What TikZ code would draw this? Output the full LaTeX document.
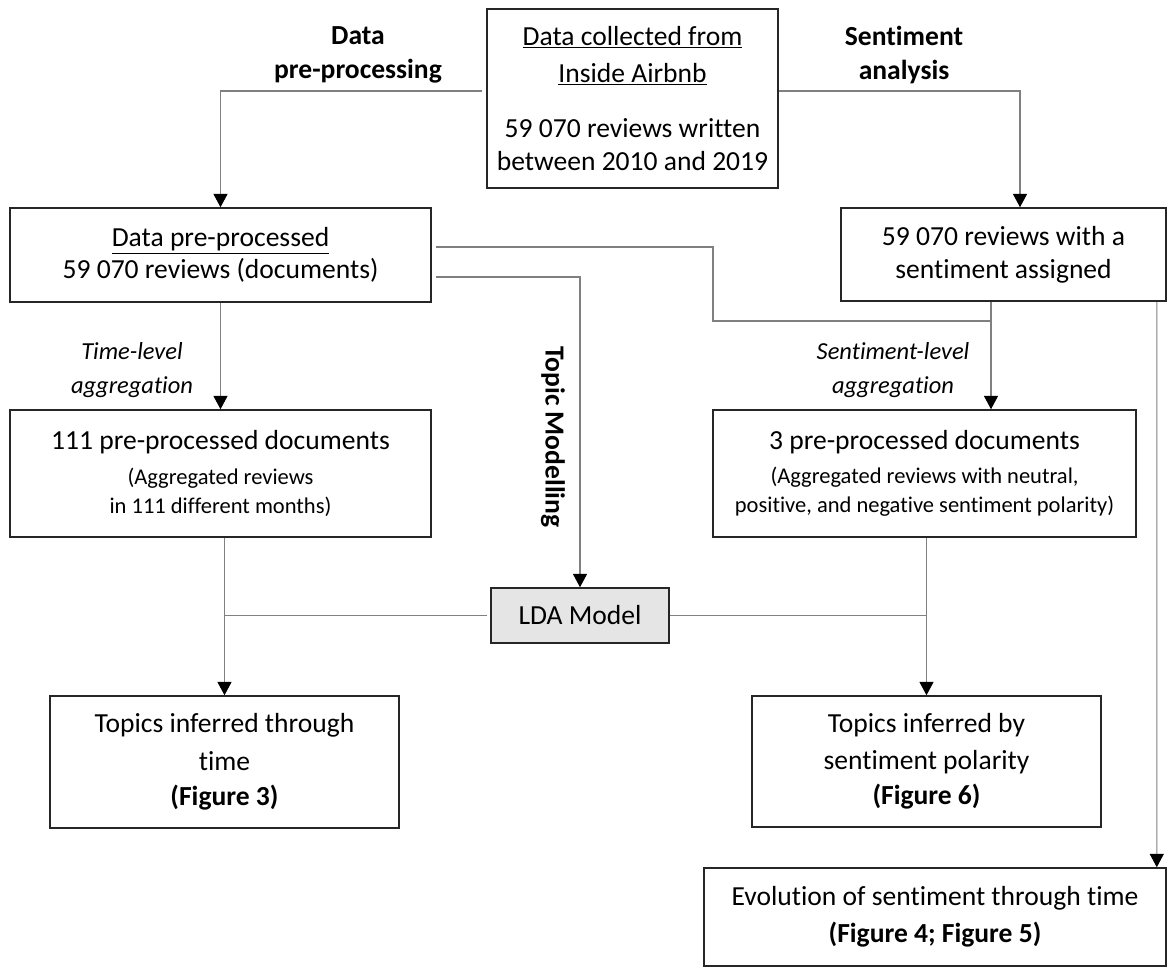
\documentclass[tikz,border=0pt]{standalone}
\usepackage{fontspec}
\setmainfont{Carlito}[Ligatures=NoCommon]
\usetikzlibrary{arrows.meta}
\usetikzlibrary{calc}
\newcommand{\subtxt}{\fontsize{16}{20}\selectfont}

\begin{document}
\begin{tikzpicture}[x=0.025cm,y=-0.025cm,
    box/.style={draw=black!85,line width=1.1pt,inner sep=0pt,align=center,
      font=\fontsize{19.6}{24.5}\selectfont},
    sz/.style 2 args={minimum width=#1*0.025cm,minimum height=#2*0.025cm},
    conn/.style={draw=black!50,line width=0.75pt},
    arr/.style={conn,-{Triangle[length=9.5pt,width=10pt,color=black]}},
    steplab/.style={align=center,font=\fontsize{19.6}{24.2}\selectfont\bfseries},
    agglab/.style={align=center,font=\fontsize{17.4}{24}\selectfont\itshape}]
            \useasboundingbox (0,0) rectangle (1168,967);

            % boxes
            \node[box,sz={291}{179}] (collect) at (632.5,98.5)
                {\underline{Data collected from}\\[1.8pt]
                 \underline{Inside Airbnb}\\[14.6pt]
                 59 070 reviews written\\[-1pt]
                 between 2010 and 2019};
            \node[box,sz={421}{94}] (prep) at (220.5,255)
                {\underline{Data pre-processed}\\[-1.7pt] 59 070 reviews (documents)};
            \node[box,sz={325}{93}] (senti) at (1003.5,254.5)
                {59 070 reviews with a\\[-1pt] sentiment assigned};
            \node[box,sz={421}{127}] (tdocs) at (220.5,473.5)
                {111 pre-processed documents\\
                 {\subtxt (Aggregated reviews}\\[-3.9pt]
                 {\subtxt in 111 different months)}};
            \node[box,sz={423}{127}] (sdocs) at (924.5,473.5)
                {3 pre-processed documents\\
                 {\subtxt (Aggregated reviews with neutral,}\\[-3.9pt]
                 {\subtxt positive, and negative sentiment polarity)}};
            \node[box,sz={178}{55},fill=black!10] (lda) at (580,615.5) {LDA Model};
            \node[box,sz={349}{132}] (ttopics) at (224.5,762)
                {Topics inferred through\\[2.5pt] time\\[0.4pt] \textbf{(Figure 3)}};
            \node[box,sz={349}{131}] (stopics) at (926.5,761.5)
                {Topics inferred by\\[1.8pt] sentiment polarity\\[0.4pt] \textbf{(Figure 6)}};
            \node[box,sz={462}{98}] (evol) at (935,917)
                {Evolution of sentiment through time\\[1.8pt] \textbf{(Figure 4; Figure 5)}};

            % step labels
            \node[steplab] (lprep) at (358,55) {Data\\pre-processing};
            \node[steplab] (lsent) at (904,55) {Sentiment\\analysis};
            \node[steplab,rotate=-90] (ltopic) at (553,437) {Topic Modelling};
            \node[agglab] (ltime) at (132,370) {Time-level\\aggregation};
            \node[agglab] (lsagg) at (893,370) {Sentiment-level\\aggregation};

            % connectors
            \coordinate (jog) at (713,321);
            \coordinate (sj) at (991,321);
            \draw[arr] ($(collect.west)+(-4,-7.5)$) -| (prep.north);
            \draw[arr] ($(collect.east)+(0,-7.5)$) -| ($(senti.north)+(16.5,0)$);
            \draw[conn] ($(prep.east)+(4,-8)$) -| (jog) -- (sj);
            \draw[arr] (senti.south -| sj) -- (sdocs.north -| sj);
            \draw[arr] ($(prep.east)+(4,22)$) -| (lda.north);
            \draw[arr] (prep.south) -- (tdocs.north);
            \draw[arr] (tdocs.south -| ttopics.north) -- (ttopics.north);
            \draw[conn] ($(lda.west)+(-3,0)$) -- (lda.west -| ttopics.north);
            \draw[arr] (sdocs.south -| stopics.north) -- (stopics.north);
            \draw[conn] (lda.east) -- (lda.east -| stopics.north);
            \draw[arr] ($(senti.south east)+(-10,0)$) -- ($(evol.north east)+(-10,0)$);
\end{tikzpicture}
\end{document}
